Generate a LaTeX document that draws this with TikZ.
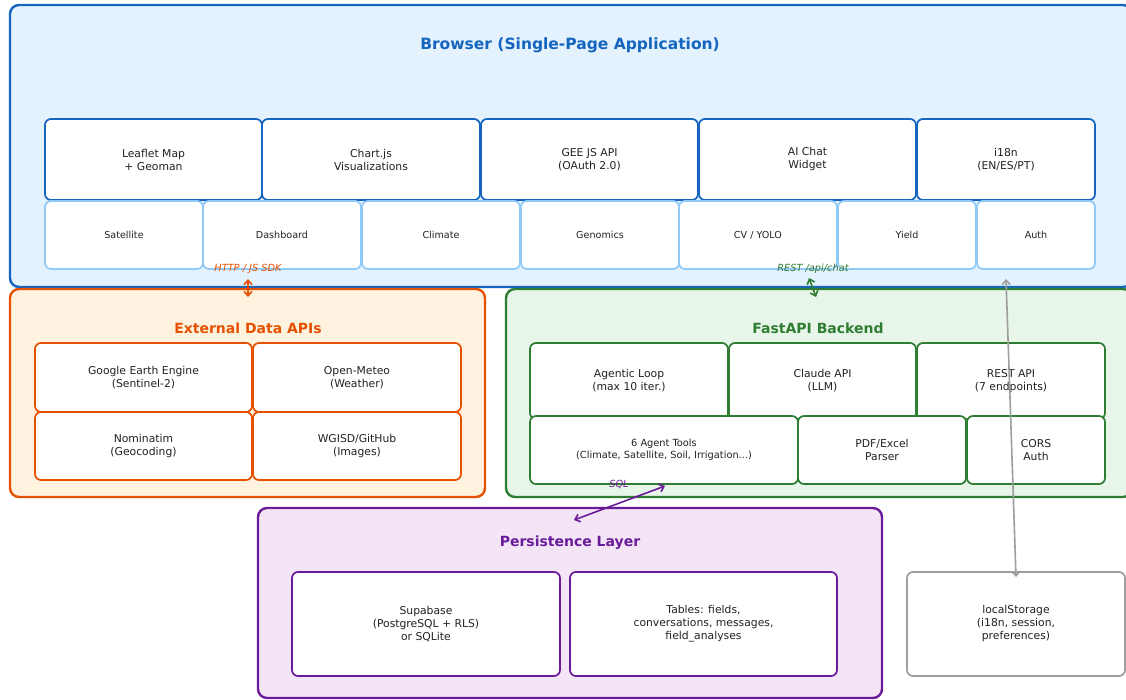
\documentclass[tikz,border=0pt]{standalone}
\usepackage{fontspec}
\setmainfont{DejaVu Sans}
\usetikzlibrary{arrows.meta}
\definecolor{cblue}{HTML}{1565C0}
\definecolor{cblueL}{HTML}{90CAF9}
\definecolor{cblueF}{HTML}{E3F2FD}
\definecolor{corange}{HTML}{E65100}
\definecolor{corangeF}{HTML}{FFF3E0}
\definecolor{cgreen}{HTML}{2E7D32}
\definecolor{cgreenF}{HTML}{E8F5E9}
\definecolor{cpurple}{HTML}{6A1B9A}
\definecolor{cpurpleF}{HTML}{F3E5F5}
\definecolor{cgray}{HTML}{9E9E9E}
\definecolor{ctext}{HTML}{222222}
\newcommand\Bx[7]{\node[#6, minimum width={(#4)-(#2)}, minimum height={(#5)-(#3)}] (#1) at ({((#2)+(#4))/2},{((#3)+(#5))/2}) {#7};}
\tikzset{
  layerbox/.style={draw, line width=2.4pt, rounded corners=9pt, inner sep=0pt},
  inbox/.style={draw, fill=white, line width=1.7pt, rounded corners=6pt, align=center, inner sep=0pt, text=ctext, font=\fontsize{10.8}{13}\selectfont},
  smallbox/.style={inbox, draw=cblueL, font=\fontsize{9.6}{12}\selectfont},
  ltitle/.style={font=\bfseries\fontsize{14}{17}\selectfont},
  clabel/.style={font=\itshape\fontsize{9.8}{11}\selectfont},
  conn/.style={line width=1.6pt, {Straight Barb[length=4.5pt,width=8pt]}-{Straight Barb[length=4.5pt,width=8pt]}}
}
\begin{document}
\begin{tikzpicture}[x=1pt,y=-1pt]
\useasboundingbox[fill=white] (0,0) rectangle (1126,700);
% Browser
\Bx{browser}{10}{5}{1132}{287}{layerbox, draw=cblue, fill=cblueF}{}
\node[ltitle, text=cblue, font=\bfseries\fontsize{15.5}{18}\selectfont] (browserT) at (570,45) {Browser (Single-Page Application)};
\Bx{leaflet}{45}{119}{262}{200}{inbox, draw=cblue}{Leaflet Map\\+ Geoman}
\Bx{chartjs}{262}{119}{480}{200}{inbox, draw=cblue}{Chart.js\\Visualizations}
\Bx{geejs}{481}{119}{698}{200}{inbox, draw=cblue}{GEE JS API\\(OAuth 2.0)}
\Bx{aichat}{699}{119}{916}{200}{inbox, draw=cblue}{AI Chat\\Widget}
\Bx{i18n}{917}{119}{1095}{200}{inbox, draw=cblue}{i18n\\(EN/ES/PT)}
\Bx{satellite}{45}{201}{203}{269}{smallbox}{Satellite}
\Bx{dashboard}{203}{201}{361}{269}{smallbox}{Dashboard}
\Bx{climate}{362}{201}{520}{269}{smallbox}{Climate}
\Bx{genomics}{521}{201}{679}{269}{smallbox}{Genomics}
\Bx{cvyolo}{679}{201}{837}{269}{smallbox}{CV / YOLO}
\Bx{yield}{838}{201}{976}{269}{smallbox}{Yield}
\Bx{auth}{977}{201}{1095}{269}{smallbox}{Auth}
% External
\Bx{external}{10}{289}{485}{497}{layerbox, draw=corange, fill=corangeF}{}
\node[ltitle, text=corange] (externalT) at (248,328) {External Data APIs};
\Bx{gee}{35}{343}{252}{412}{inbox, draw=corange}{Google Earth Engine\\(Sentinel-2)}
\Bx{meteo}{253}{343}{461}{412}{inbox, draw=corange}{Open-Meteo\\(Weather)}
\Bx{nominatim}{35}{412}{252}{480}{inbox, draw=corange}{Nominatim\\(Geocoding)}
\Bx{wgisd}{253}{412}{461}{480}{inbox, draw=corange}{WGISD/GitHub\\(Images)}
% FastAPI
\Bx{fastapi}{506}{289}{1132}{497}{layerbox, draw=cgreen, fill=cgreenF}{}
\node[ltitle, text=cgreen] (fastapiT) at (818,328) {FastAPI Backend};
\Bx{agentic}{530}{343}{728}{419}{inbox, draw=cgreen}{Agentic Loop\\(max 10 iter.)}
\Bx{claude}{729}{343}{916}{419}{inbox, draw=cgreen}{Claude API\\(LLM)}
\Bx{rest}{917}{343}{1105}{419}{inbox, draw=cgreen}{REST API\\(7 endpoints)}
\Bx{tools}{530}{416}{798}{484}{inbox, draw=cgreen, font=\fontsize{9.8}{12}\selectfont}{6 Agent Tools\\(Climate, Satellite, Soil, Irrigation...)}
\Bx{pdf}{798}{416}{966}{484}{inbox, draw=cgreen}{PDF/Excel\\Parser}
\Bx{cors}{967}{416}{1105}{484}{inbox, draw=cgreen}{CORS\\Auth}
% Persistence
\Bx{persist}{258}{508}{882}{698}{layerbox, draw=cpurple, fill=cpurpleF}{}
\node[ltitle, text=cpurple] (persistT) at (570,543) {Persistence Layer};
\Bx{supabase}{292}{572}{560}{676}{inbox, draw=cpurple}{Supabase\\(PostgreSQL + RLS)\\or SQLite}
\Bx{tables}{570}{572}{837}{676}{inbox, draw=cpurple}{Tables: fields,\\conversations, messages,\\field\_analyses}
% localStorage
\Bx{localst}{907}{572}{1125}{676}{inbox, draw=cgray}{localStorage\\(i18n, session,\\preferences)}
% connector end points
\coordinate (httpA) at (248,279);
\coordinate (httpB) at (248,297);
\coordinate (restA) at (809,278);
\coordinate (restB) at (816,297);
\coordinate (lsA) at (1006,279);
\coordinate (lsB) at (1016,577);
\coordinate (sqlA) at (665,486);
\coordinate (sqlB) at (574,520);
\draw[conn, draw=corange] (httpA) -- (httpB);
\draw[conn, draw=cgreen] (restA) -- (restB);
\draw[conn, draw=cpurple] (sqlA) -- (sqlB);
\draw[conn, draw=cgray] (lsA) -- (lsB);
\node[clabel, text=corange] (httpL) at (248,269) {HTTP / JS SDK};
\node[clabel, text=cgreen] (restL) at (813,269) {REST /api/chat};
\node[clabel, text=cpurple] (sqlL) at (619,484) {SQL};
\end{tikzpicture}
\end{document}
